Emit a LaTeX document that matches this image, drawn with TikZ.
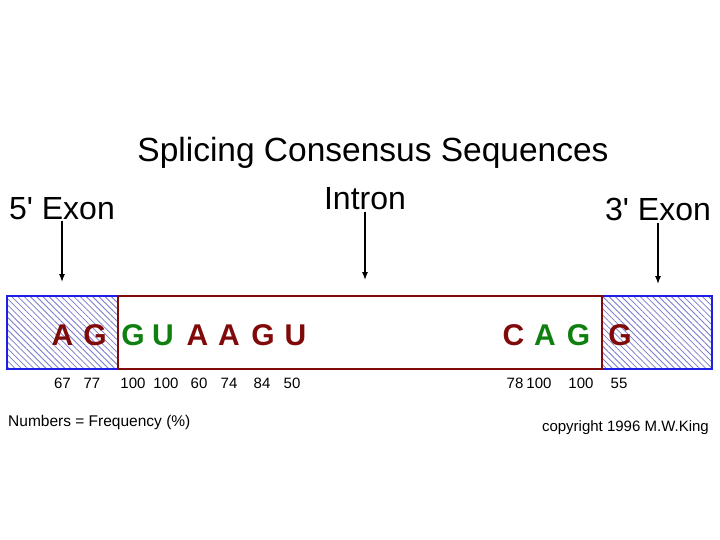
\documentclass[tikz,border=0pt]{standalone}
\usepackage{fontspec}
\setmainfont{Liberation Sans}
\usepackage{tikz}
\usetikzlibrary{arrows.meta, patterns.meta, positioning}
\definecolor{basered}{RGB}{128, 10, 10}
\definecolor{basegreen}{RGB}{15, 128, 15}
\definecolor{exonblue}{RGB}{30, 30, 230}
\definecolor{hatch}{RGB}{120, 120, 205}

\begin{document}
\begin{tikzpicture}[x=1pt, y=-1pt,
    biglabel/.style={font=\fontsize{32}{38}\selectfont, inner sep=1pt},
    exonbox/.style={draw=exonblue, line width=2pt, inner sep=0pt,
        pattern={Lines[angle=-45, distance=4.4pt, line width=0.8pt]}, pattern color=hatch},
    intronbox/.style={draw=basered, line width=2.6pt, inner sep=0pt},
    base/.style={font=\bfseries\fontsize{30}{36}\selectfont, inner sep=0pt, anchor=base},
    freq/.style={font=\fontsize{15}{18}\selectfont, inner sep=0pt, anchor=base},
    note/.style={font=\fontsize{15}{18}\selectfont, inner sep=0pt, anchor=base west},
    pointer/.style={-{Latex[length=8pt, width=6pt]}, line width=1.2pt}]
    \useasboundingbox (0,0) rectangle (720,540);

    % Title and region labels
    \node[biglabel, font=\fontsize{33.5}{40}\selectfont, anchor=base] (title) at (373,162) {Splicing Consensus Sequences};
    \node[biglabel, anchor=base] (exon5) at (62,219) {5\textquotesingle{} Exon};
    \node[biglabel, anchor=base] (intron) at (365,210) {Intron};
    \node[biglabel, anchor=base] (exon3) at (658,221) {3\textquotesingle{} Exon};

    % Exons (hatched) and intron
    \node[exonbox, minimum width=111pt, minimum height=73pt] (exon5box) at (62,332.5) {};
    \node[exonbox, minimum width=110pt, minimum height=73pt] (exon3box) at (657,332.5) {};
    \node[intronbox, minimum width=484pt, minimum height=73pt] (intronbox) at (360,332.5) {};

    % Arrows down to the sequence
    \coordinate (t5) at (exon5.south |- 0,282);
    \coordinate (ti) at (intron.south |- 0,280);
    \coordinate (t3) at (exon3.south |- 0,284);
    \draw[pointer] (exon5.south) -- (t5);
    \draw[pointer] (intron.south) -- (ti);
    \draw[pointer] (exon3.south) -- (t3);

    % Consensus bases
    \foreach \b/\x/\c [count=\i] in {A/62.5/basered, G/95/basered,
        G/133/basegreen, U/163/basegreen, A/197.5/basered, A/229/basered,
        G/263/basered, U/295.5/basered,
        C/513.5/basered, A/545/basegreen, G/578.5/basegreen, G/620/basered}
        \node[base, text=\c] (b\i) at (\x,345) {\b};

    % Frequencies
    \foreach \n/\x [count=\i] in {67/62.5, 77/92, 100/133, 100/166, 60/199,
        74/229, 84/262, 50/292, 78/515, 100/539, 100/581, 55/619}
        \node[freq] (f\i) at (\x,388) {\n};

    % Notes
    \node[note, font=\fontsize{15.5}{18}\selectfont] (legend) at (8,426) {Numbers = Frequency (\%)};
    \node[note, anchor=base east] (credit) at (709,431) {copyright 1996 M.W.King};
\end{tikzpicture}
\end{document}
